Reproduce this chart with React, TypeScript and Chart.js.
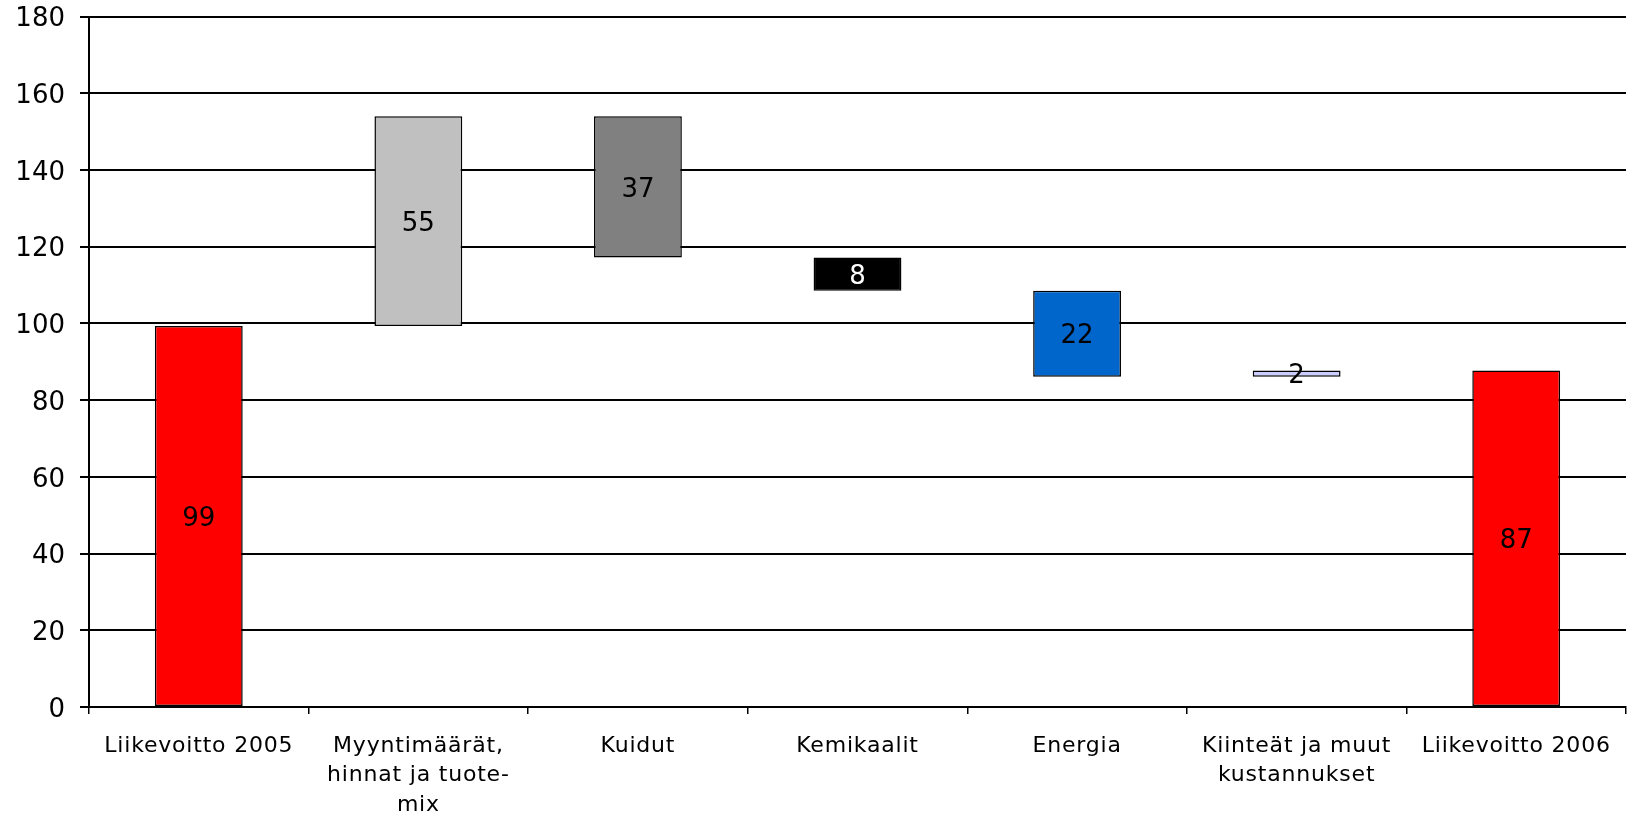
import React, { useEffect, useRef } from "react";
import { Chart, registerables } from "chart.js";

Chart.register(...registerables);

const categories: (string | string[])[] = [
  "Liikevoitto 2005",
  ["Myyntimäärät,", "hinnat ja tuote-", "mix"],
  "Kuidut",
  "Kemikaalit",
  "Energia",
  ["Kiinteät ja muut", "kustannukset"],
  "Liikevoitto 2006",
];
const barStarts = [0, 99.3, 117.2, 108.5, 86.1, 86.1, 0];
const barEnds = [99.3, 154, 154, 117.2, 108.5, 87.7, 87.7];
const valueLabels = ["99", "55", "37", "8", "22", "2", "87"];
const barColors = ["#FF0000", "#C0C0C0", "#808080", "#000000", "#0066CC", "#CCCCFF", "#FF0000"];
const labelColors = ["#000000", "#000000", "#000000", "#FFFFFF", "#000000", "#000000", "#000000"];
const yTicks = [0, 20, 40, 60, 80, 100, 120, 140, 160, 180];

const FONT = "'DejaVu Sans', Verdana, sans-serif";

const valueLabelPlugin = {
  id: "valueLabels",
  afterDatasetsDraw(chart: any) {
    const ctx = chart.ctx;
    const meta = chart.getDatasetMeta(0);
    ctx.save();
    ctx.font = `26px ${FONT}`;
    ctx.textAlign = "center";
    ctx.textBaseline = "middle";
    meta.data.forEach((el: any, i: number) => {
      const { x, y, base } = el.getProps(["x", "y", "base"], true);
      ctx.fillStyle = labelColors[i];
      ctx.fillText(valueLabels[i], x, (y + base) / 2 + 3);
    });
    ctx.restore();
    // x tick labels are drawn after this point (z: 1) with a little letter spacing
    ctx.letterSpacing = "0.8px";
  },
  afterDraw(chart: any) {
    chart.ctx.letterSpacing = "0px";
  },
};

export default function App() {
  const ref = useRef<HTMLCanvasElement>(null);
  useEffect(() => {
    if (!ref.current) return;
    const chart = new Chart(ref.current, {
      type: "bar",
      data: {
        labels: categories,
        datasets: [
          {
            data: barStarts.map((s, i) => [s, barEnds[i]]) as any,
            backgroundColor: barColors,
            borderColor: "#000000",
            borderWidth: 1.5,
            borderSkipped: false,
            categoryPercentage: 1,
            barPercentage: 0.4,
          },
        ],
      },
      options: {
        animation: false,
        responsive: false,
        maintainAspectRatio: false,
        layout: { padding: { top: 16.5, right: 3, left: 0, bottom: 0 } },
        plugins: { legend: { display: false }, tooltip: { enabled: false } },
        scales: {
          x: {
            grid: {
              offset: true,
              drawOnChartArea: false,
              drawTicks: true,
              tickLength: 7,
              color: "#000000",
              lineWidth: 1.5,
            },
            border: { color: "#000000", width: 2 },
            ticks: {
              color: "#000000",
              font: { family: FONT, size: 22, lineHeight: 1.35 },
              padding: 17,
              maxRotation: 0,
              autoSkip: false,
              z: 1,
            },
            afterFit(scale: any) {
              scale.height = 108;
              scale.paddingLeft = 0;
              scale.paddingRight = 0;
            },
          },
          y: {
            min: 0,
            max: 180,
            afterBuildTicks(scale: any) {
              scale.ticks = yTicks.map((v) => ({ value: v }));
            },
            grid: {
              color: "#000000",
              lineWidth: 2,
              tickLength: 9,
            },
            border: { color: "#000000", width: 2 },
            ticks: {
              color: "#000000",
              font: { family: FONT, size: 26 },
              padding: 15,
              labelOffset: 3,
            },
            afterFit(scale: any) {
              scale.width = 89;
              scale.paddingTop = 0;
              scale.paddingBottom = 0;
            },
          },
        },
      },
      plugins: [valueLabelPlugin],
    });
    return () => chart.destroy();
  }, []);
  return (
    <div style={{ position: "absolute", left: 0, top: 0, width: 1629, height: 815, background: "#fff" }}>
      <canvas ref={ref} width={1629} height={815} style={{ width: 1629, height: 815 }} />
    </div>
  );
}
